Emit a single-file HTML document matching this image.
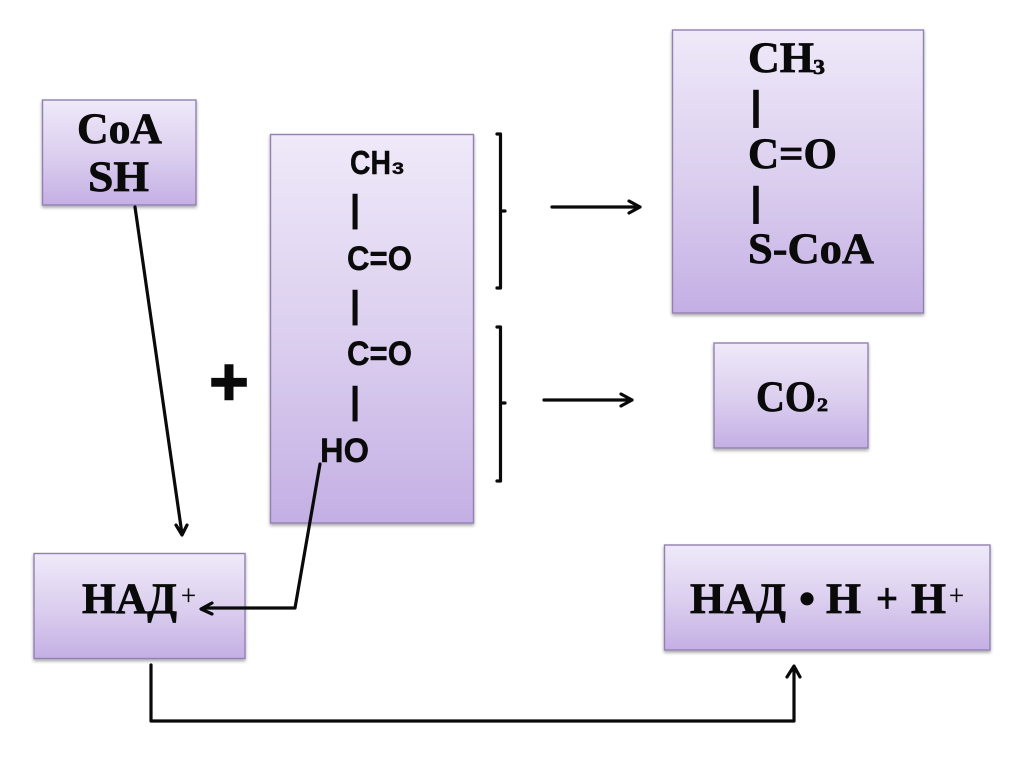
<!DOCTYPE html>
<html><head><meta charset="utf-8"><style>
html,body{margin:0;padding:0;background:#fff;width:1024px;height:767px;overflow:hidden}
svg{display:block}
.s{font-family:"Liberation Serif",serif;font-weight:700;fill:#0a0a0a;stroke:#0a0a0a;stroke-width:.7}
.f{font-family:"Liberation Sans",sans-serif;font-weight:700;fill:#0a0a0a;stroke:#0a0a0a;stroke-width:.4}
.b{fill:url(#g);stroke:#9280b0;stroke-width:1.4;filter:url(#sh)}
.l{fill:none;stroke:#0a0a0a;stroke-width:3.2;stroke-linejoin:round;stroke-linecap:round}
</style></head><body>
<svg width="1024" height="767" viewBox="0 0 1024 767" xmlns="http://www.w3.org/2000/svg">
<defs>
<linearGradient id="g" x1="0" y1="0" x2="0" y2="1"><stop offset="0" stop-color="#efe9f9"/><stop offset=".55" stop-color="#dacdee"/><stop offset="1" stop-color="#c4afe4"/></linearGradient>
<filter id="sh" x="-5%" y="-5%" width="110%" height="110%"><feDropShadow dx="0" dy="2" stdDeviation="1.5" flood-color="#000" flood-opacity=".35"/></filter>
</defs>
<rect x="42.5" y="100" width="153.5" height="105" class="b"/>
<rect x="270.5" y="134.5" width="203" height="388.5" class="b"/>
<rect x="34" y="553.5" width="211" height="105" class="b"/>
<rect x="672.5" y="30" width="251" height="283" class="b"/>
<rect x="714" y="343" width="154" height="105" class="b"/>
<rect x="664.5" y="545" width="325.5" height="105" class="b"/>

<text class="s" x="77" y="143" font-size="43" textLength="85" lengthAdjust="spacingAndGlyphs">CoA</text>
<text class="s" x="88" y="191" font-size="43" textLength="61" lengthAdjust="spacingAndGlyphs">SH</text>

<text class="f" x="350" y="174" font-size="33" textLength="41" lengthAdjust="spacingAndGlyphs">CH</text>
<text class="f" x="392" y="174" font-size="17" textLength="12" lengthAdjust="spacingAndGlyphs">3</text>
<text class="f" x="347" y="270" font-size="34" textLength="65" lengthAdjust="spacingAndGlyphs">C=O</text>
<text class="f" x="347" y="365" font-size="34" textLength="65" lengthAdjust="spacingAndGlyphs">C=O</text>
<text class="f" x="320" y="462" font-size="34" textLength="49" lengthAdjust="spacingAndGlyphs">HO</text>
<text class="f" x="355" y="221" font-size="37" text-anchor="middle">|</text>
<text class="f" x="355" y="317" font-size="37" text-anchor="middle">|</text>
<text class="f" x="355" y="413" font-size="37" text-anchor="middle">|</text>

<text class="s" x="748" y="72" font-size="43" textLength="66" lengthAdjust="spacingAndGlyphs">CH</text>
<text class="s" x="813" y="74" font-size="21" textLength="12" lengthAdjust="spacingAndGlyphs">3</text>
<text class="s" x="748" y="168" font-size="43" textLength="89" lengthAdjust="spacingAndGlyphs">C=O</text>
<text class="s" x="748" y="263" font-size="43" textLength="126" lengthAdjust="spacingAndGlyphs">S-CoA</text>
<text class="f" x="756" y="119" font-size="40" text-anchor="middle">|</text>
<text class="f" x="756" y="215" font-size="40" text-anchor="middle">|</text>

<text class="s" x="756" y="411" font-size="43" textLength="60" lengthAdjust="spacingAndGlyphs">CO</text>
<text class="s" x="817" y="411" font-size="19" textLength="11" lengthAdjust="spacingAndGlyphs">2</text>

<text class="s" x="82" y="613" font-size="43" textLength="95" lengthAdjust="spacingAndGlyphs">НАД</text>
<text class="s" x="181" y="605" font-size="29" textLength="15" lengthAdjust="spacingAndGlyphs" style="font-weight:400;stroke-width:.2">+</text>

<text class="s" x="690" y="613" font-size="43" textLength="96" lengthAdjust="spacingAndGlyphs">НАД</text>
<text class="s" x="807" y="614" font-size="46" text-anchor="middle">•</text>
<text class="s" x="826" y="613" font-size="43" textLength="35" lengthAdjust="spacingAndGlyphs">Н</text>
<text class="s" x="876" y="613" font-size="43" textLength="22" lengthAdjust="spacingAndGlyphs">+</text>
<text class="s" x="911" y="613" font-size="43" textLength="35" lengthAdjust="spacingAndGlyphs">Н</text>
<text class="s" x="949" y="605" font-size="29" textLength="15" lengthAdjust="spacingAndGlyphs" style="font-weight:400;stroke-width:.2">+</text>

<text class="f" x="229" y="405" font-size="68" text-anchor="middle" style="stroke-width:1.5">+</text>

<path class="l" d="M135 207L182 534M176 525L182 535L187 525"/>
<path class="l" d="M320 464L295 608H203M212 603L201 609L212 614"/>
<path class="l" d="M151 665V721H794V667M787 677L794 666L800 677"/>
<path class="l" d="M497 134H500.5V288H497M500.5 211H505"/>
<path class="l" d="M497 327H500.5V481H497M500.5 403H505"/>
<path class="l" d="M552 207H640M629 201L640 207L629 213"/>
<path class="l" d="M544 400H632M621 394L632 400L621 406"/>
</svg>
</body></html>
